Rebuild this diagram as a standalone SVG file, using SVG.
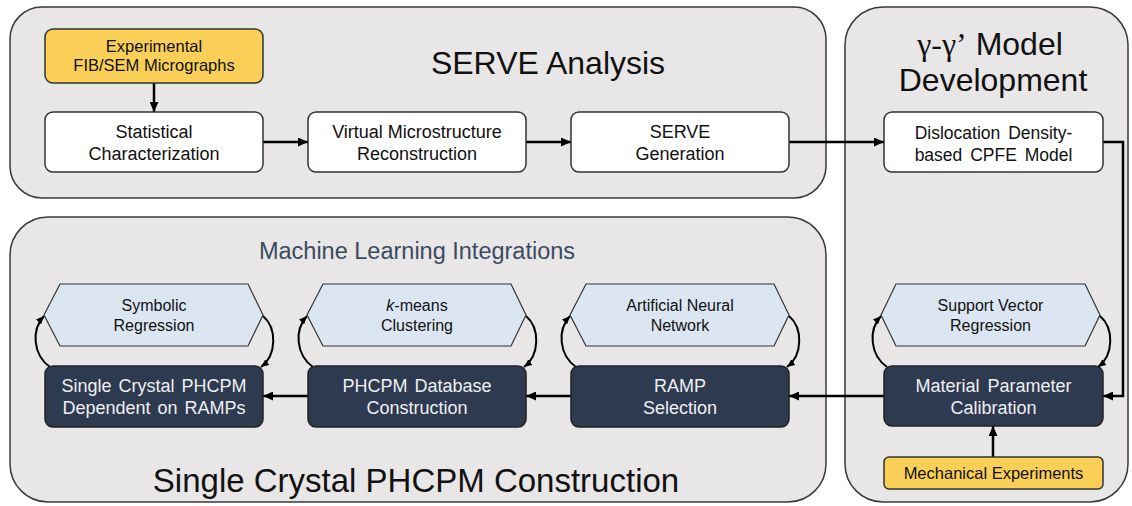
<svg xmlns="http://www.w3.org/2000/svg" width="1132" height="506" viewBox="0 0 1132 506">
<defs>
<marker id="ah" markerUnits="userSpaceOnUse" markerWidth="10" markerHeight="9" refX="10" refY="4.5" orient="auto"><path d="M0,0 L10,4.5 L0,9 z" fill="#000"/></marker>
<marker id="ahs" markerUnits="userSpaceOnUse" markerWidth="8" markerHeight="7" refX="8" refY="3.5" orient="auto"><path d="M0,0 L8,3.5 L0,7 z" fill="#000"/></marker>
<style>
.panel{fill:#E8E6E6;stroke:#3a3a3a;stroke-width:1.5}
.wbox{fill:#FFFFFF;stroke:#333;stroke-width:1.5}
.ybox{fill:#F9CF57;stroke:#333;stroke-width:1.5}
.dbox{fill:#2E3A4F;stroke:#222;stroke-width:1.5}
.hex{fill:#DCE6F2;stroke:#333;stroke-width:1.2}
.t{font-family:"Liberation Sans",Arial,sans-serif;text-anchor:middle;fill:#111}
.b18{font-size:18px}
.b16{font-size:16.5px}
.h16{font-size:16px}
.lt{fill:#EEF0F3}
.big{font-size:32px}
.conn{fill:none;stroke:#000;stroke-width:2.5}
.curve{fill:none;stroke:#000;stroke-width:2}
</style>
</defs>
<rect width="1132" height="506" fill="#FFFFFF"/>

<g id="panels">
<rect id="panel-serve" class="panel" x="10" y="7" width="816" height="191" rx="32"/>
<rect id="panel-phcpm" class="panel" x="10" y="217" width="816" height="285" rx="38"/>
<rect id="panel-model" class="panel" x="845" y="7" width="283" height="495" rx="38"/>
<text class="t big" x="548" y="74">SERVE Analysis</text>
<text class="t big" x="990" y="55"><tspan font-family="'Liberation Serif',serif">γ-γ’</tspan> Model</text>
<text class="t big" x="993" y="91">Development</text>
<text class="t" x="417" y="259" style="font-size:23.5px;fill:#3C4A60">Machine Learning Integrations</text>
<text class="t" x="416" y="492" style="font-size:33px">Single Crystal PHCPM Construction</text>
</g>

<g id="connectors">
<line class="conn" x1="154" y1="83" x2="154" y2="112" marker-end="url(#ah)"/>
<line class="conn" x1="263" y1="142" x2="308" y2="142" marker-end="url(#ah)"/>
<line class="conn" x1="526" y1="142" x2="571" y2="142" marker-end="url(#ah)"/>
<line class="conn" x1="789" y1="142" x2="884" y2="142" marker-end="url(#ah)"/>
<path class="conn" d="M1103 142 H1123 V396 H1103" marker-end="url(#ah)"/>
<line class="conn" x1="884" y1="396" x2="789" y2="396" marker-end="url(#ah)"/>
<line class="conn" x1="571" y1="396" x2="526" y2="396" marker-end="url(#ah)"/>
<line class="conn" x1="308" y1="396" x2="263" y2="396" marker-end="url(#ah)"/>
<line class="conn" x1="993" y1="457" x2="993" y2="426" marker-end="url(#ah)"/>
<path class="curve" d="M50 367 C33 355 31 330 44 316" marker-end="url(#ahs)"/>
<path class="curve" d="M263 316 C277 328 277 355 261 367" marker-end="url(#ahs)"/>
<path class="curve" d="M313 367 C296 355 294 330 307 316" marker-end="url(#ahs)"/>
<path class="curve" d="M526 316 C540 328 540 355 524 367" marker-end="url(#ahs)"/>
<path class="curve" d="M576 367 C559 355 557 330 570 316" marker-end="url(#ahs)"/>
<path class="curve" d="M789 316 C803 328 803 355 787 367" marker-end="url(#ahs)"/>
<path class="curve" d="M887 367 C870 355 868 330 881 316" marker-end="url(#ahs)"/>
<path class="curve" d="M1100 316 C1114 328 1114 355 1098 367" marker-end="url(#ahs)"/>
</g>

<g id="n-fib">
<rect class="ybox" x="45" y="29" width="218" height="54" rx="8"/>
<text class="t b16" x="154" y="52">Experimental</text>
<text class="t b16" x="154" y="71">FIB/SEM Micrographs</text>
</g>
<g id="n-stat">
<rect class="wbox" x="45" y="112" width="218" height="60" rx="8"/>
<text class="t b18" x="154" y="138">Statistical</text>
<text class="t b18" x="154" y="160">Characterization</text>
</g>
<g id="n-virtual">
<rect class="wbox" x="308" y="112" width="218" height="60" rx="8"/>
<text class="t b18" x="417" y="138">Virtual Microstructure</text>
<text class="t b18" x="417" y="160">Reconstruction</text>
</g>
<g id="n-serve">
<rect class="wbox" x="571" y="112" width="218" height="60" rx="8"/>
<text class="t b18" x="680" y="138">SERVE</text>
<text class="t b18" x="680" y="160">Generation</text>
</g>
<g id="n-dislocation">
<rect class="wbox" x="884" y="112" width="219" height="60" rx="8"/>
<text class="t" x="993.5" y="139" style="font-size:17.5px;word-spacing:3px">Dislocation Density-</text>
<text class="t" x="993.5" y="161" style="font-size:17.5px;word-spacing:3px">based CPFE Model</text>
</g>

<g id="n-symbolic">
<polygon class="hex" points="60,284 248,284 263,315 248,346 60,346 44,315"/>
<text class="t h16" x="154" y="311">Symbolic</text>
<text class="t h16" x="154" y="331">Regression</text>
</g>
<g id="n-kmeans">
<polygon class="hex" points="323,284 511,284 526,315 511,346 323,346 307,315"/>
<text class="t h16" x="417" y="311"><tspan font-style="italic">k</tspan>-means</text>
<text class="t h16" x="417" y="331">Clustering</text>
</g>
<g id="n-ann">
<polygon class="hex" points="586,284 774,284 789,315 774,346 586,346 570,315"/>
<text class="t h16" x="680" y="311">Artificial Neural</text>
<text class="t h16" x="680" y="331">Network</text>
</g>
<g id="n-svr">
<polygon class="hex" points="896,284 1085,284 1100,315 1085,346 896,346 881,315"/>
<text class="t h16" x="990.5" y="311">Support Vector</text>
<text class="t h16" x="990.5" y="331">Regression</text>
</g>

<g id="n-single">
<rect class="dbox" x="45" y="366" width="218" height="61" rx="8"/>
<text class="t b18 lt" x="154" y="392" style="word-spacing:2px">Single Crystal PHCPM</text>
<text class="t b18 lt" x="154" y="414" style="word-spacing:2px">Dependent on RAMPs</text>
</g>
<g id="n-database">
<rect class="dbox" x="308" y="366" width="218" height="61" rx="8"/>
<text class="t b18 lt" x="417" y="392" style="word-spacing:2px">PHCPM Database</text>
<text class="t b18 lt" x="417" y="414">Construction</text>
</g>
<g id="n-ramp">
<rect class="dbox" x="571" y="366" width="218" height="61" rx="8"/>
<text class="t b18 lt" x="680" y="392">RAMP</text>
<text class="t b18 lt" x="680" y="414">Selection</text>
</g>
<g id="n-material">
<rect class="dbox" x="884" y="366" width="219" height="60" rx="8"/>
<text class="t b18 lt" x="993.5" y="392" style="word-spacing:3px">Material Parameter</text>
<text class="t b18 lt" x="993.5" y="414">Calibration</text>
</g>
<g id="n-mechanical">
<rect class="ybox" x="884" y="457" width="219" height="32" rx="5"/>
<text class="t b16" x="993.5" y="479">Mechanical Experiments</text>
</g>
</svg>
